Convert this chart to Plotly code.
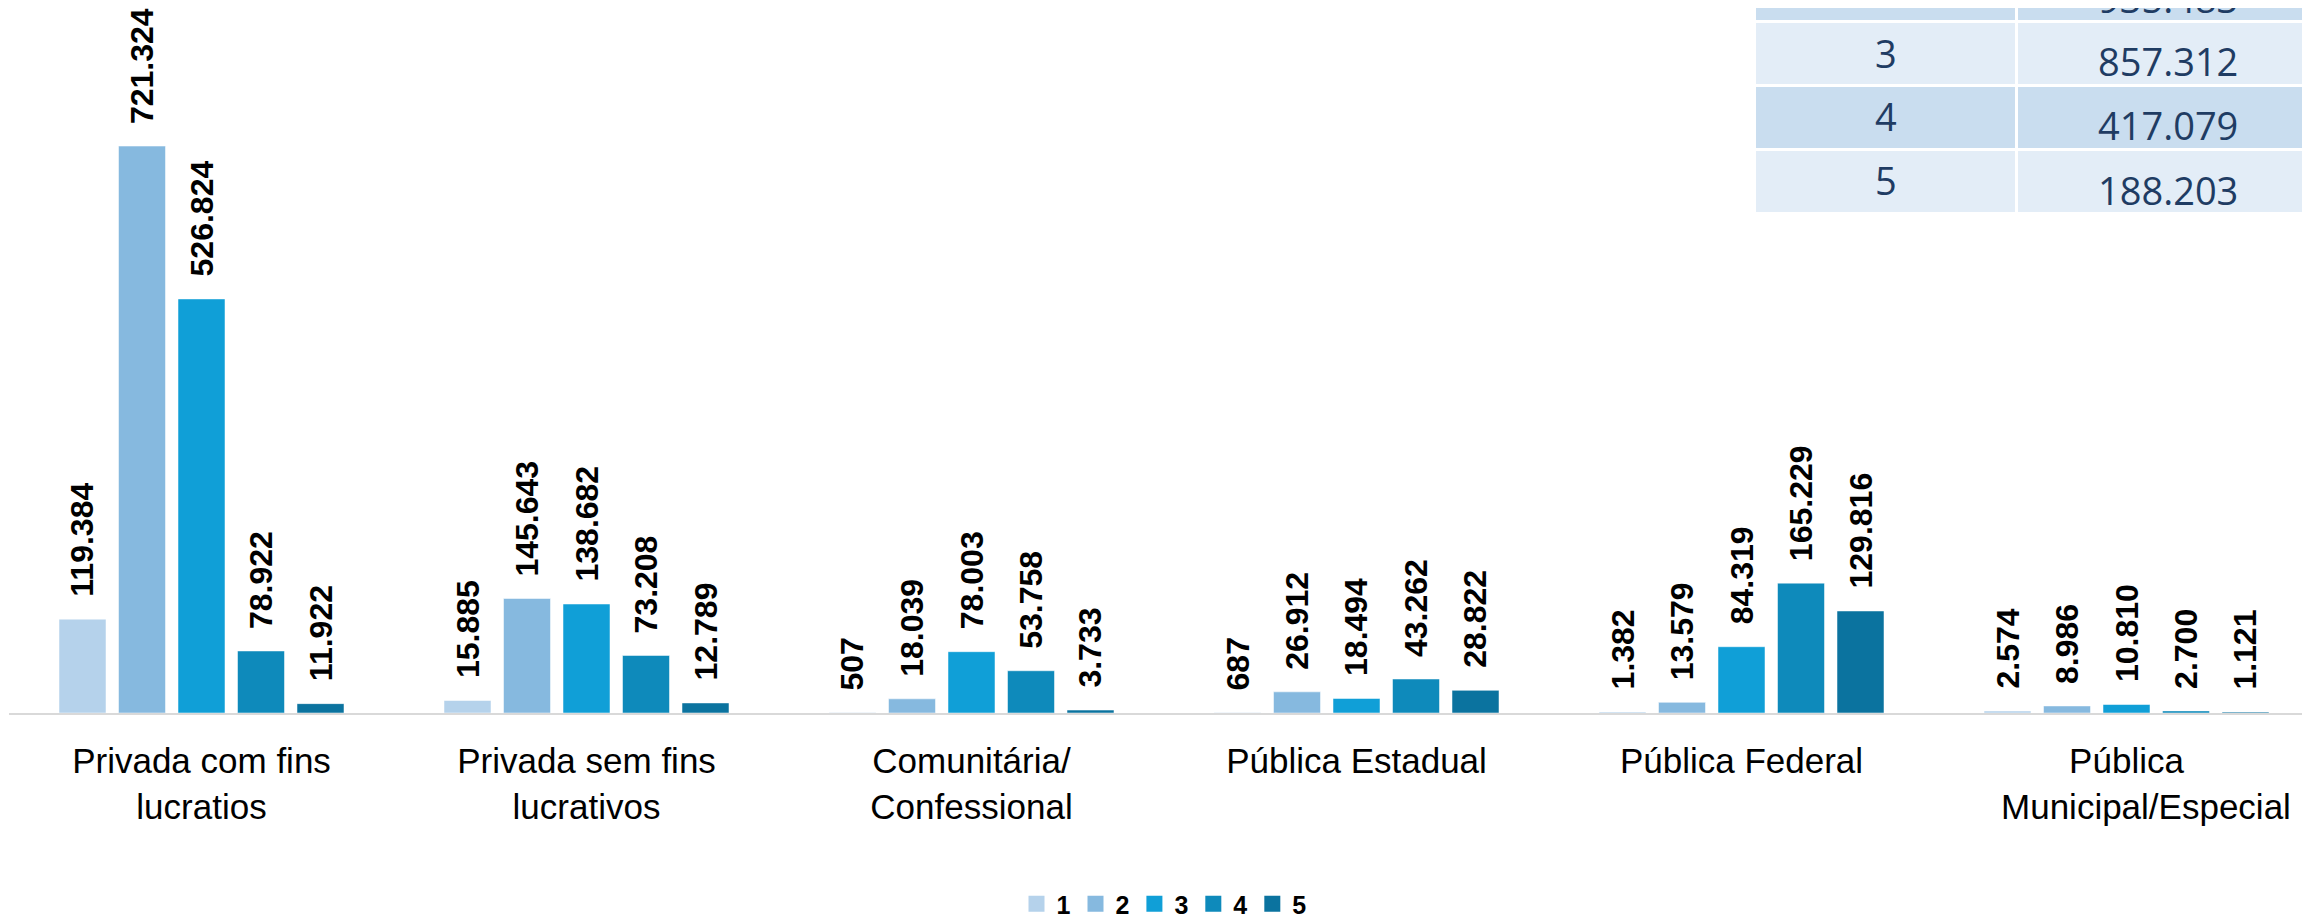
import plotly.graph_objects as go

# ---------------- data ----------------
categories = ["Privada com fins<br>lucratios", "Privada sem fins<br>lucrativos",
              "Comunitária/<br>Confessional", "Pública Estadual",
              "Pública Federal", "Pública<br>\u00a0\u00a0\u00a0\u00a0Municipal/Especial"]
series_names = ["1", "2", "3", "4", "5"]
s1 = [119384, 15885, 507, 687, 1382, 2574]
s2 = [721324, 145643, 18039, 26912, 13579, 8986]
s3 = [526824, 138682, 78003, 18494, 84319, 10810]
s4 = [78922, 73208, 53758, 43262, 165229, 2700]
s5 = [11922, 12789, 3733, 28822, 129816, 1121]
series_values = [s1, s2, s3, s4, s5]

table_rows = ["2", "3", "4", "5"]
table_vals = ["935.483", "857.312", "417.079", "188.203"]

# ---------------- styling ----------------
colors = ["#b5d2eb", "#86b9df", "#109fd7", "#0e8abb", "#0b739f"]
OFF = 8                      # page body margin in the browser
W, H = 2310 - OFF, 921 - OFF
# target screen positions
SCR_LEFT, SCR_RIGHT, SCR_TOP, SCR_BASE = 9, 2310, OFF, 713
PL = SCR_LEFT - OFF
PR = 0
PT = 0
PB = H - (SCR_BASE - OFF)
plot_w = W - PL - PR
plot_h = H - PT - PB
cat_px = 385.0
slot_px = 59.5
bar_px = 47.0
units_per_px = 1272.3


def fmt(v):
    return f"{v:,}".replace(",", ".")


def px_x(px):
    """screen x -> paper x"""
    return (px - OFF - PL) / plot_w


def px_y(py):
    """screen y -> paper y"""
    return 1 - (py - OFF - PT) / plot_h


fig = go.Figure()
x_idx = list(range(len(categories)))
for j, (name, vals) in enumerate(zip(series_names, series_values)):
    fig.add_trace(go.Bar(
        name=name, x=x_idx, y=vals, showlegend=False,
        marker=dict(color=colors[j], line=dict(color="rgba(255,255,255,0.5)", width=1)),
        hoverinfo="skip",
    ))
    for i, v in enumerate(vals):
        fig.add_annotation(
            x=i + (j - 2) * slot_px / cat_px, y=v, xref="x", yref="y",
            text=fmt(v), showarrow=False, textangle=-90,
            xanchor="center", yanchor="bottom", yshift=20,
            font=dict(family="Liberation Sans", size=32, color="#000000", weight="bold"),
        )

# legend entries (square swatches)
for j, name in enumerate(series_names):
    fig.add_trace(go.Scatter(
        name=name, x=[None], y=[None], mode="markers",
        marker=dict(symbol="square", size=16, color=colors[j]),
        showlegend=True, hoverinfo="skip",
    ))

# table (partially visible, top-right)
row_top0 = -41
row_pitch = 64
row_h = 61
col1 = (1756, 2015)
col2 = (2018, 2340)
row_colors = ["#c9ddef", "#e3edf7"]
for r, (rl, rv) in enumerate(zip(table_rows, table_vals)):
    top = row_top0 + r * row_pitch
    bot = top + row_h
    c = row_colors[r % 2]
    for (x0, x1) in (col1, col2):
        fig.add_shape(type="rect", xref="paper", yref="paper",
                      x0=px_x(x0), x1=px_x(x1), y0=px_y(bot), y1=px_y(top),
                      fillcolor=c, line=dict(width=0), layer="above")
    mid = (top + bot) / 2
    fig.add_annotation(x=px_x((col1[0] + col1[1]) / 2), y=px_y(mid - 1), xref="paper", yref="paper",
                       text=rl, showarrow=False, xanchor="center", yanchor="middle",
                       font=dict(family="Open Sans", size=38, color="#1f3c63"))
    fig.add_annotation(x=px_x(2168), y=px_y(mid + 8), xref="paper", yref="paper",
                       text=rv, showarrow=False, xanchor="center", yanchor="middle",
                       font=dict(family="Open Sans", size=38, color="#1f3c63"))

x_span = plot_w / cat_px
fig.update_layout(
    width=W, height=H,
    margin=dict(l=PL, r=PR, t=PT, b=PB, pad=0, autoexpand=False),
    paper_bgcolor="white", plot_bgcolor="white",
    barmode="group",
    bargap=1 - 5 * slot_px / cat_px,
    bargroupgap=1 - bar_px / slot_px,
    showlegend=True,
    legend=dict(orientation="h", xref="container", yref="container",
                x=(1164 - OFF) / W, xanchor="center",
                y=1 - (904 - OFF) / H, yanchor="middle",
                font=dict(family="Liberation Sans", size=25, color="#000000", weight="bold"),
                bgcolor="rgba(0,0,0,0)"),
    xaxis=dict(range=[-0.5, -0.5 + x_span], tickmode="array", tickvals=x_idx, ticktext=categories,
               showline=True, linecolor="#d9d9d9", linewidth=2, showgrid=False, ticks="",
               zeroline=False, fixedrange=True, automargin=False, ticklabelstandoff=16,
               tickfont=dict(family="Liberation Sans", size=35, color="#000000")),
    yaxis=dict(range=[0, plot_h * units_per_px], visible=False, showgrid=False, zeroline=False,
               fixedrange=True, automargin=False),
)

fig.write_html("out.html")
